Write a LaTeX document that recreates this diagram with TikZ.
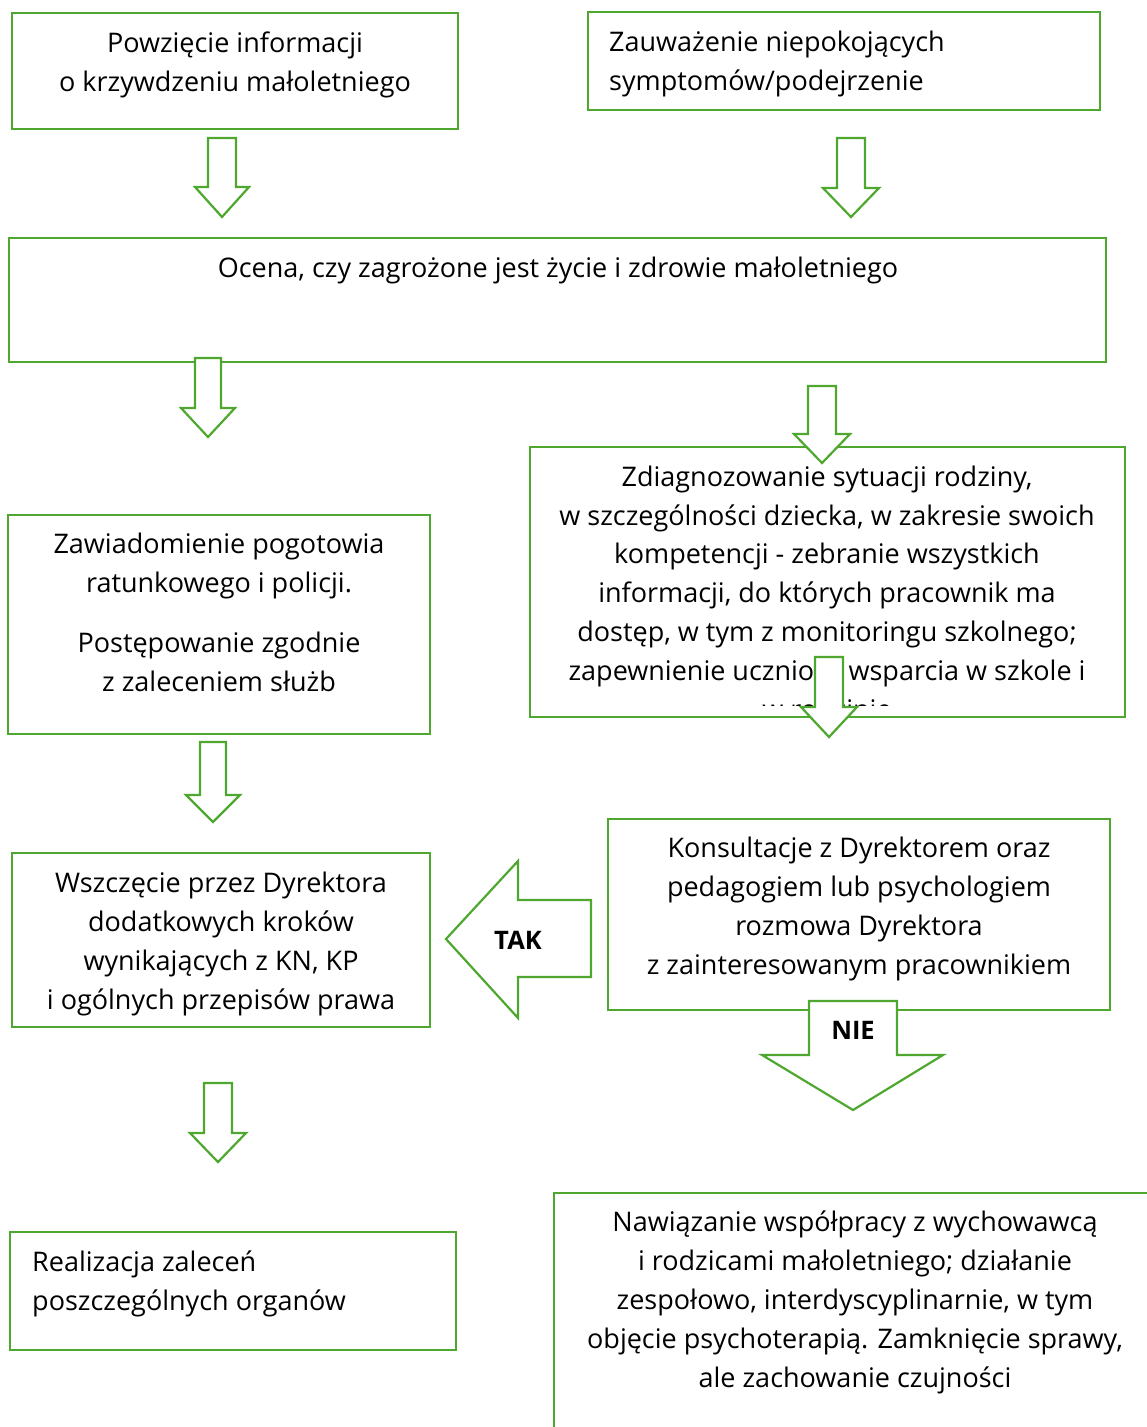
\documentclass[tikz,border=0pt]{standalone}
\usepackage{fontspec}
\setmainfont{Open Sans}
\definecolor{grn}{RGB}{78,167,46}
\newcommand\dnarr[6]{% cx, top, shaft bottom, tip, half shaft, half head
  \draw[arr] ({#1-#5},#2) -- ({#1+#5},#2) -- ({#1+#5},#3) -- ({#1+#6},#3) -- (#1,#4) -- ({#1-#6},#3) -- ({#1-#5},#3) -- cycle;}
\tikzset{
  box/.style={draw=grn, line width=2.2pt},
  arr/.style={draw=grn, line width=2.2pt, fill=white, line join=miter},
  txt/.style={font=\fontsize{27}{38.8}\selectfont, align=center, anchor=base, inner sep=0pt},
  txtl/.style={font=\fontsize{27}{38.8}\selectfont, align=left, anchor=base west, inner sep=0pt},
  lab/.style={font=\fontsize{25.5}{28}\selectfont\bfseries, anchor=base, inner sep=0pt}
}
\begin{document}
\begin{tikzpicture}[x=1pt,y=-1pt]
\useasboundingbox (0,0) rectangle (1147,1427);
\clip (0,0) rectangle (1147,1427);
% boxes (text nodes anchored at the baseline of their last line)
\draw[box] (12,13) rectangle (458,129);
\node[txt] (a) at (235,91) {Powzięcie informacji\\o krzywdzeniu małoletniego};
\draw[box] (588,12) rectangle (1100,110);
\node[txtl] (b) at (609,90) {Zauważenie niepokojących\\symptomów/podejrzenie};
\dnarr{222}{138}{187}{217}{14}{27}
\dnarr{851}{138}{188}{217}{14}{28}
\draw[box] (9,238) rectangle (1106,362);
\node[txt] (c) at (558,277) {Ocena, czy zagrożone jest życie i zdrowie małoletniego};
\draw[box] (8,515) rectangle (430,734);
\node[txt] (d1) at (219,592) {Zawiadomienie pogotowia\\ratunkowego i policji.};
\node[txt] (d2) at (219,691) {Postępowanie zgodnie\\z zaleceniem służb};
\draw[box] (530,447) rectangle (1125,717);
\begin{scope}
\clip (530,447) rectangle (1125,705);
\node[txt] (e) at (827,719) {Zdiagnozowanie sytuacji rodziny,\\w szczególności dziecka, w zakresie swoich\\kompetencji - zebranie wszystkich\\informacji, do których pracownik ma\\dostęp, w tym z monitoringu szkolnego;\\zapewnienie uczniowi wsparcia w szkole i\\w rodzinie};
\end{scope}
\dnarr{208}{358}{408}{437}{13}{27}
\dnarr{822}{386}{434}{463}{14}{28}
\dnarr{829}{657}{707}{737}{14}{28}
\dnarr{213}{742}{795}{822}{13}{27}
\draw[box] (12,853) rectangle (430,1027);
\node[txt] (f) at (221,1009) {Wszczęcie przez Dyrektora\\dodatkowych kroków\\wynikających z KN, KP\\i ogólnych przepisów prawa};
\draw[box] (608,819) rectangle (1110,1010);
\node[txt] (g) at (859,974) {Konsultacje z Dyrektorem oraz\\pedagogiem lub psychologiem\\rozmowa Dyrektora\\z zainteresowanym pracownikiem};
% TAK arrow
\draw[arr] (446,939) -- (518,861) -- (518,900) -- (591,900) -- (591,977) -- (518,977) -- (518,1018) -- cycle;
\node[lab] (tak) at (518,949) {TAK};
% NIE arrow
\draw[arr] (809,1001) -- (897,1001) -- (897,1055) -- (943,1055) -- (853,1110) -- (762,1055) -- (809,1055) -- cycle;
\node[lab] (nie) at (853,1039) {NIE};
\dnarr{218}{1083}{1133}{1162}{14}{28}
\draw[box] (10,1232) rectangle (456,1350);
\node[txtl] (h) at (32,1310) {Realizacja zaleceń\\poszczególnych organów};
\draw[box] (554,1193) rectangle (1170,1450);
\node[txt] (i) at (855,1387) {Nawiązanie współpracy z wychowawcą\\i rodzicami małoletniego; działanie\\zespołowo, interdyscyplinarnie, w tym\\objęcie psychoterapią. Zamknięcie sprawy,\\ale zachowanie czujności};
\end{tikzpicture}
\end{document}
